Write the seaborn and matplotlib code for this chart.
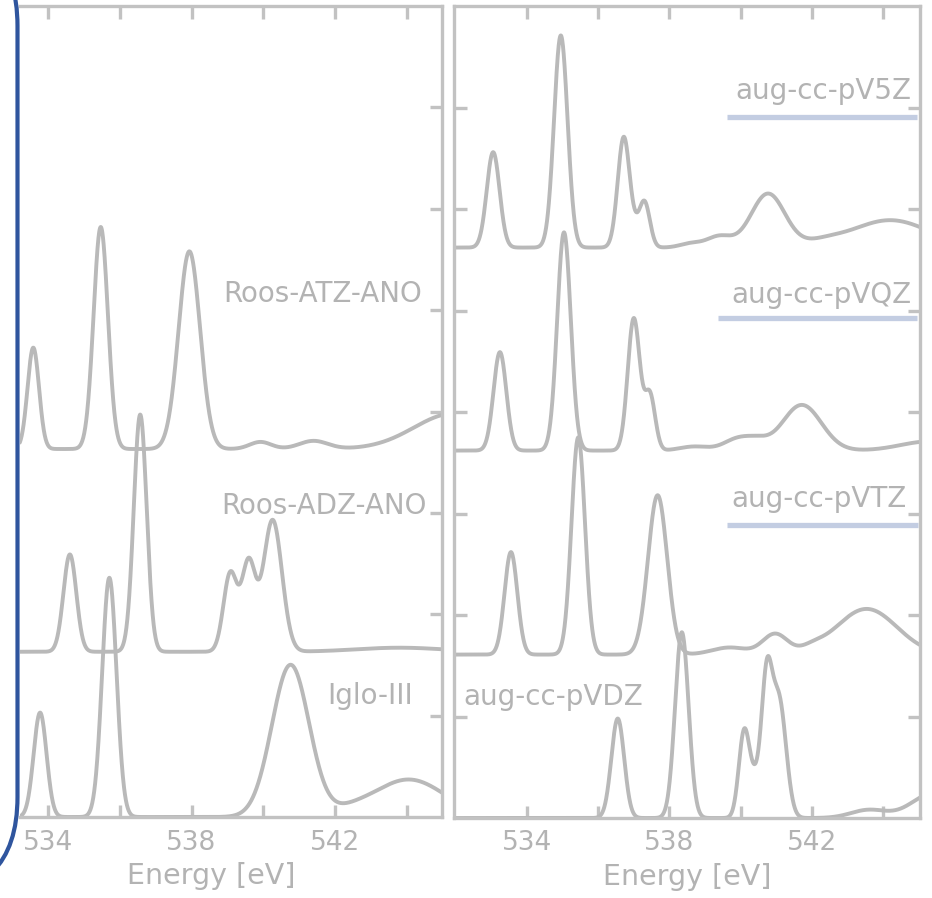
import numpy as np
import pandas as pd
import matplotlib.pyplot as plt
import seaborn as sns
from matplotlib.patches import FancyBboxPatch

# stick spectra: centre [eV], height, gaussian width [eV]
iglo_e = [533.78, 535.71, 540.76, 542.4, 544.05]
iglo_h = [1.03, 2.36, 1.50, 0.04, 0.37]
iglo_w = [0.18, 0.20, 0.52, 0.5, 1.0]

adz_e = [534.61, 536.57, 539.08, 539.59, 540.26, 543.8]
adz_h = [0.96, 2.34, 0.77, 0.86, 1.30, 0.04]
adz_w = [0.18, 0.18, 0.19, 0.19, 0.26, 1.2]

atz_e = [533.59, 535.47, 537.94, 539.92, 541.4, 545.3]
atz_h = [1.00, 2.19, 1.95, 0.07, 0.08, 0.35]
atz_w = [0.16, 0.20, 0.30, 0.3, 0.4, 1.1]

vdz_e = [536.55, 538.35, 540.10, 540.40, 540.73, 541.08, 543.6, 545.4]
vdz_h = [0.98, 1.83, 0.84, 0.30, 1.28, 1.15, 0.08, 0.24]
vdz_w = [0.18, 0.19, 0.15, 0.15, 0.15, 0.20, 0.5, 0.6]

vtz_e = [533.55, 535.44, 537.67, 539.7, 540.97, 542.0, 543.54]
vtz_h = [1.01, 2.14, 1.57, 0.07, 0.20, 0.04, 0.45]
vtz_w = [0.18, 0.19, 0.27, 0.5, 0.35, 0.3, 0.85]

vqz_e = [533.24, 535.04, 537.00, 537.45, 538.7, 539.95, 540.5, 541.72, 545.3]
vqz_h = [0.97, 2.15, 1.30, 0.55, 0.04, 0.12, 0.06, 0.45, 0.09]
vqz_w = [0.18, 0.19, 0.17, 0.15, 0.4, 0.4, 0.3, 0.55, 0.8]

v5z_e = [533.05, 534.95, 536.72, 537.05, 537.30, 538.6, 539.4, 540.77, 542.3, 544.2]
v5z_h = [0.94, 2.09, 1.09, 0.08, 0.45, 0.04, 0.11, 0.53, 0.04, 0.27]
v5z_w = [0.18, 0.19, 0.17, 0.12, 0.15, 0.3, 0.35, 0.48, 0.5, 1.1]

left_names = ["Iglo-III", "Roos-ADZ-ANO", "Roos-ATZ-ANO"]
left_offsets = [0.0, 1.63, 3.63]
right_names = ["aug-cc-pVDZ", "aug-cc-pVTZ", "aug-cc-pVQZ", "aug-cc-pV5Z"]
right_offsets = [0.0, 1.61, 3.62, 5.62]

peaks = {
    "Iglo-III": (iglo_e, iglo_h, iglo_w),
    "Roos-ADZ-ANO": (adz_e, adz_h, adz_w),
    "Roos-ATZ-ANO": (atz_e, atz_h, atz_w),
    "aug-cc-pVDZ": (vdz_e, vdz_h, vdz_w),
    "aug-cc-pVTZ": (vtz_e, vtz_h, vtz_w),
    "aug-cc-pVQZ": (vqz_e, vqz_h, vqz_w),
    "aug-cc-pV5Z": (v5z_e, v5z_h, v5z_w),
}

grid = np.linspace(531.9, 545.1, 2000)


def broaden(name, offset):
    e, h, w = (np.asarray(a) for a in peaks[name])
    y = (h[:, None] * np.exp(-0.5 * ((grid[None, :] - e[:, None]) / w[:, None]) ** 2)).sum(0)
    return pd.DataFrame({"energy": grid, "intensity": y + offset, "spectrum": name})


sns.set_style("white")
plt.rcParams["font.family"] = ["DejaVu Sans"]

grey = "#b9b9b9"
frame = "#c2c2c2"
text_c = "#b3b3b3"
bar_c = "#c3cde2"

fig = plt.figure(figsize=(9.32, 8.98), dpi=100)
ax_l = fig.add_axes([20 / 932, 81 / 898, 422 / 932, 811 / 898])
ax_r = fig.add_axes([454 / 932, 80 / 898, 466 / 932, 812 / 898])

df_l = pd.concat([broaden(n, o) for n, o in zip(left_names, left_offsets)])
df_r = pd.concat([broaden(n, o) for n, o in zip(right_names, right_offsets)])

for ax, df, xlim in [(ax_l, df_l, (533.22, 544.98)), (ax_r, df_r, (531.95, 545.04))]:
    sns.lineplot(data=df, x="energy", y="intensity", units="spectrum",
                 estimator=None, color=grey, lw=2.8, ax=ax, legend=False)
    ax.set_xlim(*xlim)
    ax.set_ylim(0, 8)
    ax.set_xticks(range(534, 545, 2))
    ax.set_xticklabels(["534", "", "538", "", "542", ""])
    ax.set_yticks(range(1, 8))
    ax.tick_params(direction="in", length=9, width=2.4, color=frame,
                   top=True, right=True, left=True, bottom=True,
                   labelleft=False, labelsize=19, labelcolor=text_c, pad=9)
    for s in ax.spines.values():
        s.set_color(frame)
        s.set_linewidth(2.4)
    ax.set_xlabel("Energy [eV]", fontsize=20.5, color=text_c)
    ax.set_ylabel("")

ax_l.xaxis.set_label_coords(0.453, -0.056)
ax_r.xaxis.set_label_coords(0.5, -0.056)
ax_l.spines["left"].set_visible(False)
ax_l.tick_params(left=False)

# labels
lab = dict(fontsize=20, color=text_c, va="baseline")
ax_l.text(544.42, 5.08, "Roos-ATZ-ANO", ha="right", **lab)
ax_l.text(544.56, 2.99, "Roos-ADZ-ANO", ha="right", **lab)
ax_l.text(544.17, 1.11, "Iglo-III", ha="right", **lab)

ax_r.text(544.81, 7.08, "aug-cc-pV5Z", ha="right", **lab)
ax_r.text(544.81, 5.07, "aug-cc-pVQZ", ha="right", **lab)
ax_r.text(544.67, 3.06, "aug-cc-pVTZ", ha="right", **lab)
ax_r.text(532.2, 1.11, "aug-cc-pVDZ", ha="left", **lab)

# underline bars (axes fraction)
for x0, x1, y in [(0.586, 0.994, 0.863), (0.567, 0.994, 0.616), (0.586, 0.996, 0.361)]:
    ax_r.plot([x0, x1], [y, y], color=bar_c, lw=3.8, transform=ax_r.transAxes,
              solid_capstyle="butt", clip_on=False)

# blue rounded frame, mostly outside the crop
box = FancyBboxPatch((-3.0, 0.01), 3.175, 9.71,
                     boxstyle="round,pad=0,rounding_size=1.0",
                     transform=fig.dpi_scale_trans, fill=False,
                     edgecolor="#2f559e", lw=3.0, zorder=10, clip_on=False)
fig.add_artist(box)

fig.savefig("out.png", dpi=100)
